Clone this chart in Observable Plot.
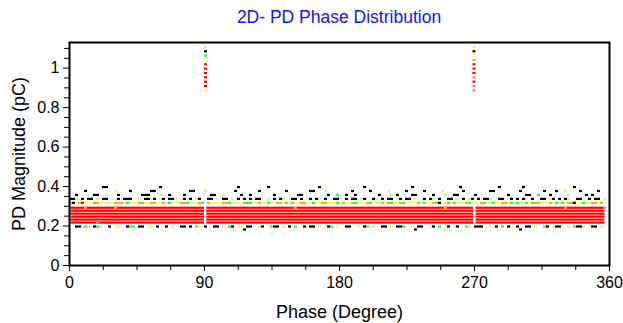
<!DOCTYPE html>
<html>
<head>
<meta charset="utf-8">
<script src="https://cdn.jsdelivr.net/npm/d3@7"></script>
<script src="https://cdn.jsdelivr.net/npm/@observablehq/plot@0.6"></script>
<style>
  body { margin: 0; background: #fff; }
  #title { width: 623px; height: 32px; box-sizing: border-box; padding: 7px 14px 0 69px; text-align: center;
           font-family: "Liberation Sans", Arial, sans-serif; font-size: 17.5px; line-height: 20px; color: #1414ff; }
</style>
</head>
<body>
<div id="title">2D- PD Phase Distribution</div>
<div id="chart"></div>
<script>
// ---- data ----
const title = "2D- PD Phase Distribution";
const xTicks = [0, 90, 180, 270, 360];
const xMinorTicks = [22.5, 45, 67.5, 112.5, 135, 157.5, 202.5, 225, 247.5, 292.5, 315, 337.5];
const yTicks = [0, 0.2, 0.4, 0.6, 0.8, 1];
const yMinorTicks = [0.05, 0.1, 0.15, 0.25, 0.3, 0.35, 0.45, 0.5, 0.55, 0.65, 0.7, 0.75, 0.85, 0.9, 0.95, 1.05, 1.1];

const phaseStep = 2; // degrees per cell column

// scattered pulse rows: magnitude (pC) and cell colour codes per 2° phase column
const rowMags = [0.395, 0.375, 0.355, 0.335, 0.315, 0.195, 0.18];
const rowCells = [
  ".........." + ".kk......." + ".........." + "k........." + ".........." + "......k..." + "......k..." + ".........." + "...k......" +
  "........k." + ".........." + "....k....." + ".........." + "k........." + "...k......" + ".k........" + "........k." + "..........",
  ".....k...." + ".....l...." + "k......kk." + ".........." + "kk...l...." + ".....k...." + "...k......" + "..k......." + "kk...l...." +
  "....k....." + "k.....l..." + "..k.....k." + "....l....." + ".k........" + "kk........" + "k.......k." + "..k..l...." + "k.....k...",
  "..k.....kk" + "..l...k..." + "....kkk..." + "l..k....k." + ".......kk." + ".l.....k.." + "k.......k." + "......kk.." + "......k..g" +
  "..k..k...." + "...k...l.k" + "....kk...." + ".k...l..kk" + ".....k...." + "......k..." + "..kk..g..." + "k.....l..." + "..k.k.....",
  "kkl.k.kk.l" + ".kk..lk.kk" + "k..l.kk.k." + "lk.kkl..k." + "k.lk..kk.l" + ".kk.l.k.kl" + "k.kk..l.k." + "kl..kk.k.l" + "k.kl.k..kk" +
  "l.k.kk.lk." + ".kl.k.kk.l" + "k.kk.l..k." + "kl.k..kk.l" + ".k.lk.k.kk" + "l..kk.lk.k" + ".kl.k..kk." + "lk.k.kl..k" + "k.lk.kk.l.",
  "gkyorlyygo" + "yyllyoooyg" + "lyyogylooy" + "yolgyyloog" + "ylyog.oyly" + "yoogyllyog" + "gyloyyglyo" + "oyolgyyooy" + "lgyyoolyyg" +
  "yolyogylyo" + "gylloyogyy" + "ogylyyolgy" + "yogkylgyol" + "yyog.lyogy" + "lgyyooyglg" + "ylgygoolyy" + "oyglgyooky" + "ygylooyo..",
  "..kk.gl.kg" + "l..k.yl..k" + "gg.kk.ll.k" + "..k.l..kk." + "k.gl.k..kk" + ".l.gk.ll.k" + "k..lk..gkk" + ".l.k.g..kl" + "kk.l..kg.l" +
  "..kk..l.kg" + ".l..kk.l.k" + "kg..l.kk.." + "lk.g..k.lk" + "..gl.kkk.." + "l.k.g.kl.k" + "..kk.l..gk" + ".lkk..l.gk" + "kl..kk.l..",
  ".........." + ".........." + ".........." + ".........." + ".........." + "........k." + ".........." + ".........." + ".........." +
  ".........." + ".........." + ".....k...." + ".....l...." + ".........." + ".........." + "k........." + ".........." + ".........."
];

// dense red pulse rows (pC) and the phase spans they cover (degrees)
const redMags = [0.29, 0.275, 0.26, 0.245, 0.23, 0.215];
const redSpans = [[1, 90], [91.5, 269.5], [271, 357]];
// a few off-colour cells inside the red band: [phase, magnitude, code]
const redAccents = [[10, 0.29, "o"], [30, 0.29, "o"], [18, 0.215, "p"], [150, 0.29, "o"], [356, 0.29, "p"], [330, 0.29, "o"], [250, 0.29, "o"]];

// the two high-magnitude columns near 90° and 270°
const peakPhases = [90, 269];
const peakMags = [1.105, 1.083, 1.061, 1.039, 1.017, 0.995, 0.973, 0.951, 0.929, 0.907, 0.885];
const peakCells = ["lkgyrrrrrry", "lkyorrrprpp"];

// ---- drawing ----
const palette = { k: "#000000", l: "#c8ff8c", g: "#19ff50", y: "#ffff50", o: "#ffaa10", r: "#ff0000", p: "#ff7878" };

const cells = [];
rowMags.forEach((m, r) => {
  [...rowCells[r]].forEach((c, i) => { if (c !== ".") cells.push({ phase: i * phaseStep, mag: m, code: c }); });
});
peakPhases.forEach((ph, p) => {
  [...peakCells[p]].forEach((c, i) => cells.push({ phase: ph, mag: peakMags[i], code: c }));
});
redAccents.forEach(([ph, m, c]) => cells.push({ phase: ph, mag: m, code: c }));

const reds = [];
redMags.forEach(m => redSpans.forEach(([a, b]) => reds.push({ a, b, mag: m })));

const half = 0.0055;
const chart = Plot.plot({
  width: 623,
  height: 291,
  marginLeft: 69,
  marginRight: 14,
  marginTop: 10,
  marginBottom: 58,
  x: { domain: [0, 360] },
  y: { domain: [0, 1.13] },
  style: { fontFamily: "'Liberation Sans', Arial, sans-serif", fontSize: "16px", color: "black", background: "white" },
  marks: [
    Plot.rect(reds, { x1: "a", x2: "b", y1: d => d.mag - half, y2: d => d.mag + half, fill: palette.r }),
    Plot.rect(cells, { x1: "phase", x2: d => d.phase + phaseStep, y1: d => d.mag - half, y2: d => d.mag + half, fill: d => palette[d.code] }),
    Plot.axisX({ ticks: xMinorTicks, tickSize: 5, tickFormat: () => "", label: null }),
    Plot.axisX({ ticks: xTicks, tickSize: 6, tickPadding: 5, tickFormat: d => String(d), fontSize: 16, label: null }),
    Plot.axisY({ ticks: yMinorTicks, tickSize: 5, tickFormat: () => "", label: null }),
    Plot.axisY({ ticks: yTicks, tickSize: 6, tickPadding: 4, tickFormat: d => String(d), fontSize: 16, label: null }),
    Plot.axisX({ ticks: [], label: "Phase (Degree)", labelAnchor: "center", labelArrow: "none", labelOffset: 52, fontSize: 18 }),
    Plot.axisY({ ticks: [], label: "PD Magnitude (pC)", labelAnchor: "center", labelArrow: "none", labelOffset: 57, fontSize: 18 }),
    Plot.frame({ stroke: "black", strokeWidth: 2 })
  ]
});
document.getElementById("chart").appendChild(chart);
</script>
</body>
</html>
